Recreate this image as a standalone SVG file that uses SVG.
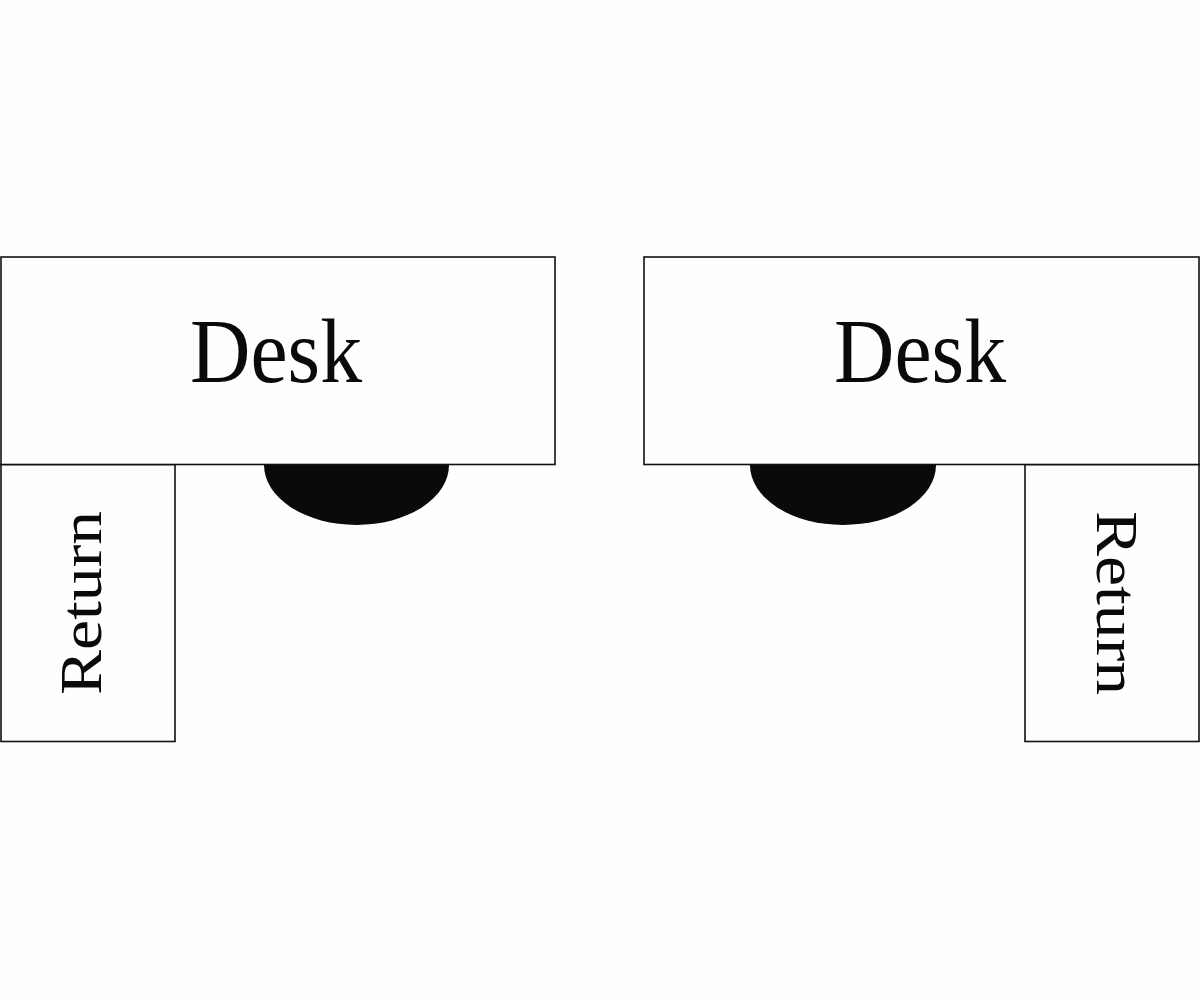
<svg xmlns="http://www.w3.org/2000/svg" width="1200" height="1000" viewBox="0 0 1200 1000">
<style>
.box{fill:#fefefe;stroke:#111;stroke-width:1.6}
.chair{fill:#0a0a0a}
.lbl{font-family:"Liberation Serif","Times New Roman",serif;fill:#0a0a0a}
</style>
<rect width="1200" height="1000" fill="#fefefe"/>
<g id="left-return"><rect class="box" x="1" y="464.5" width="174" height="277"/>
<text class="lbl" font-size="59" textLength="184" lengthAdjust="spacingAndGlyphs" transform="translate(101,695) rotate(-90)">Return</text></g>
<g id="left-desk"><rect class="box" x="1" y="257" width="554" height="207.5"/>
<text class="lbl" font-size="90" x="190" y="382" textLength="172" lengthAdjust="spacingAndGlyphs">Desk</text></g>
<g id="left-chair"><path class="chair" d="M264,465 A92.5,60 0 0 0 449,465 Z"/></g>
<g id="right-return"><rect class="box" x="1025" y="464.5" width="174" height="277"/>
<text class="lbl" font-size="59" textLength="184" lengthAdjust="spacingAndGlyphs" transform="translate(1097,511) rotate(90)">Return</text></g>
<g id="right-desk"><rect class="box" x="644" y="257" width="555" height="207.5"/>
<text class="lbl" font-size="90" x="834" y="382" textLength="172" lengthAdjust="spacingAndGlyphs">Desk</text></g>
<g id="right-chair"><path class="chair" d="M750,465 A93,60 0 0 0 936,465 Z"/></g>
<g id="connectors"/>
</svg>
